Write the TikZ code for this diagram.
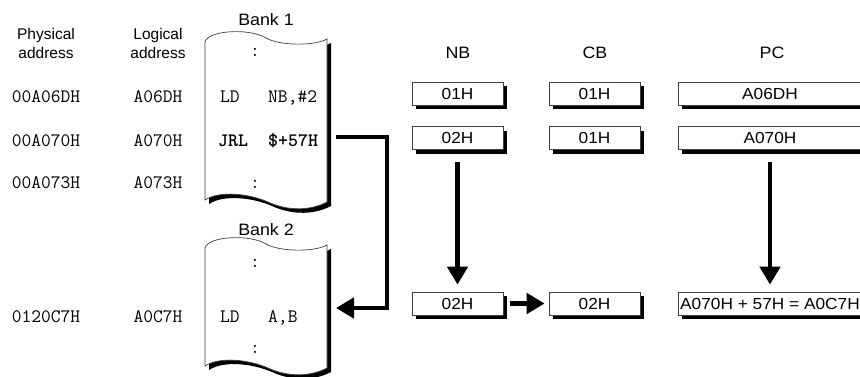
\documentclass[tikz,border=0pt]{standalone}
\usepackage{fontspec}
\setmainfont{Liberation Sans}
\newfontfamily\widesans[FakeStretch=1.08]{Liberation Sans}
\usetikzlibrary{arrows.meta,shadows}

% outline of a listing sheet: wavy top edge at y=#1, wavy bottom edge at y=#2
\newcommand\sheetpath[2]{(205,#1) .. controls (208,#1-12) and (250,#1-14) .. (266,#1-4)
  .. controls (280,#1+4) and (315,#1+4) .. (327,#1-3) -- (327,#2+2)
  .. controls (312,#2+10) and (290,#2+12) .. (268,#2+2)
  .. controls (250,#2-6) and (220,#2-10) .. (205,#2) -- cycle}

\tikzset{
  head/.style={font=\widesans\fontsize{16.5}{19}\selectfont, inner sep=0pt, anchor=base},
  collabel/.style={font=\fontsize{15.5}{19}\selectfont, inner sep=0pt, anchor=base, align=center},
  code/.style={font=\ttfamily\fontsize{19}{22}\selectfont, inner sep=0pt, anchor=base},
  codeleft/.style={code, anchor=base west},
  codebold/.style={codeleft, font=\ttfamily\bfseries\fontsize{19}{22}\selectfont\addfontfeature{FakeBold=1.2}},
  regbox/.style={draw=black!75, line width=0.7pt, fill=white, inner sep=0pt,
    minimum width=91pt, minimum height=23pt,
    font=\widesans\fontsize{16}{19}\selectfont,
    drop shadow={shadow xshift=4pt, shadow yshift=-4pt, fill=black, opacity=1}},
  widebox/.style={regbox, minimum width=184pt},
  bigarrow/.style={line width=4.5pt, miter limit=10, line join=miter,
    -{Triangle[length=18pt, width=20pt]}},
  sheet/.style={draw=black!75, line width=0.7pt, fill=white},
  sheetshadow/.style={fill=black, shift={(4,4)}}
}

\begin{document}
\begin{tikzpicture}[x=1pt, y=-1pt]
\useasboundingbox (0,0) rectangle (860,376);

% column headings on the left
\node[collabel] (phys) at (46,58) {Physical\\address};
\node[collabel] (logi) at (158,58) {Logical\\address};

% addresses
\node[code] (pa1) at (46,102) {00A06DH};
\node[code] (pa2) at (46,146) {00A070H};
\node[code] (pa3) at (46,188) {00A073H};
\node[code] (pa4) at (46,322) {0120C7H};
\node[code] (la1) at (158,102) {A06DH};
\node[code] (la2) at (158,146) {A070H};
\node[code] (la3) at (158,188) {A073H};
\node[code] (la4) at (158,322) {A0C7H};

% bank 1 listing sheet
\node[head] (bank1) at (266,25) {Bank 1};
\fill[sheetshadow] \sheetpath{42}{200};
\draw[sheet] \sheetpath{42}{200};
\node[code] (b1top) at (255,56) {:};
\node[codeleft] (b1op1) at (220,102) {LD};
\node[codeleft] (b1arg1) at (268,102) {NB,\#2};
\node[codebold] (b1op2) at (218,146) {JRL};
\node[codebold] (b1arg2) at (268,146) {\$+57H};
\node[code] (b1bot) at (255,188) {:};

% bank 2 listing sheet
\node[head] (bank2) at (266,235) {Bank 2};
\fill[sheetshadow] \sheetpath{248}{366};
\draw[sheet] \sheetpath{248}{366};
\node[code] (b2top) at (255,267) {:};
\node[codeleft] (b2op) at (220,322) {LD};
\node[codeleft] (b2arg) at (268,322) {A,B};
\node[code] (b2bot) at (255,353) {:};

% register headings
\node[head] (hnb) at (458,58) {NB};
\node[head] (hcb) at (595,58) {CB};
\node[head] (hpc) at (772,58) {PC};

% register contents
\node[regbox] (nb1) at (457.5,93.5) {01H};
\node[regbox] (nb2) at (457.5,138) {02H};
\node[regbox] (nb3) at (457.5,303.5) {02H};
\node[regbox] (cb1) at (594.5,93.5) {01H};
\node[regbox] (cb2) at (594.5,138) {01H};
\node[regbox] (cb3) at (594.5,303.5) {02H};
\node[widebox] (pc1) at (770,93.5) {A06DH};
\node[widebox] (pc2) at (770,138) {A070H};
\node[widebox] (pc3) at (770,303.5) {A070H + 57H = A0C7H};

% jump from JRL in bank 1 to LD A,B in bank 2
\coordinate (jrlout) at (336,137);
\coordinate (bend) at (387,137);
\coordinate (ldin) at (336,308);
\draw[bigarrow] (jrlout) -- (bend) |- (ldin);

% register transfers
\draw[bigarrow] ([yshift=-12pt]nb2.south) -- ([yshift=7pt]nb3.north);
\draw[bigarrow] ([yshift=-12pt]pc2.south) -- ([yshift=7pt]pc3.north);
\draw[bigarrow] ([xshift=7pt]nb3.east) -- ([xshift=-4pt]cb3.west);
\end{tikzpicture}
\end{document}
